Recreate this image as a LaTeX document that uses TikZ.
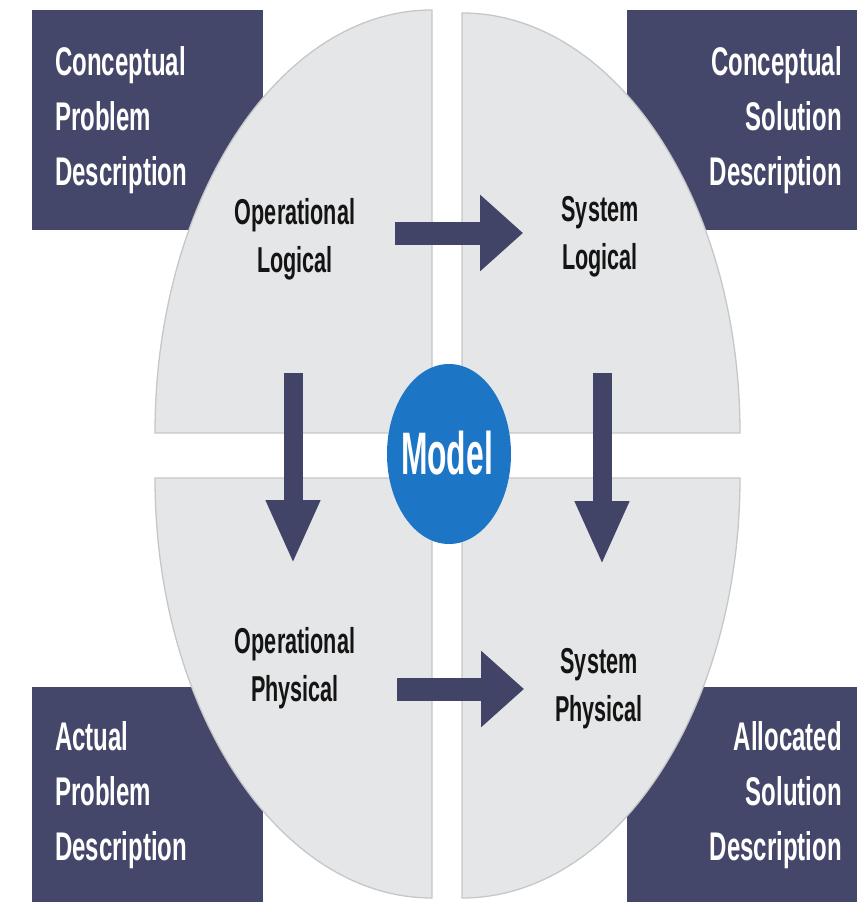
\documentclass[tikz,border=0pt]{standalone}
\usepackage{fontspec}
\setmainfont{Liberation Sans}[FakeStretch=0.6]
\newfontfamily\modelfont{Liberation Sans}[FakeStretch=0.53]
\usetikzlibrary{arrows.meta,shapes.geometric}
\definecolor{navy}{HTML}{45476A}
\definecolor{arrowc}{HTML}{424467}
\definecolor{quadfill}{HTML}{E5E6E8}
\definecolor{quadline}{HTML}{C6C7C9}
\definecolor{modelblue}{HTML}{1C75C5}
\definecolor{innertext}{HTML}{141414}
\begin{document}
\begin{tikzpicture}[x=1pt,y=-1pt,
  descbox/.style={fill=navy, text=white, inner ysep=0pt,
    font=\bfseries\fontsize{40}{55}\selectfont},
  leftbox/.style={descbox, align=left, text width=185pt, inner xsep=23pt},
  rightbox/.style={descbox, align=right, text width=200pt, inner xsep=15pt},
  quad/.style={fill=quadfill, draw=quadline, line width=1.3pt},
  harrow/.style={draw=arrowc, line width=23pt, -{Triangle[length=43pt,width=74pt]}},
  varrow/.style={draw=arrowc, line width=19pt, -{Triangle[length=64pt,width=50pt]}},
  innerlabel/.style={font=\bfseries\fontsize{36}{48}\selectfont, text=innertext,
    align=center, inner sep=0pt, anchor=north}
]
\useasboundingbox (0,0) rectangle (857,902);
\fill[white] (0,0) rectangle (857,902);

% description boxes
\node[leftbox, minimum height=220pt, anchor=north west] (cpd) at (32,10)
  {Conceptual\\Problem\\Description};
\node[rightbox, minimum height=220pt, anchor=north east] (csd) at (857,10)
  {Conceptual\\Solution\\Description};
\node[leftbox, minimum height=215pt, anchor=north west] (apd) at (32,687)
  {Actual\\Problem\\Description};
\node[rightbox, minimum height=215pt, anchor=north east] (asd) at (857,687)
  {Allocated\\Solution\\Description};

% quadrants of the ellipse
\path[quad] (432,433) -- (155,433)
  arc[start angle=180, end angle=90, x radius=277pt, y radius=423pt] -- cycle;
\path[quad] (462,433) -- (462,13)
  arc[start angle=90, end angle=0, x radius=278pt, y radius=420pt] -- cycle;
\path[quad] (432,478) -- (155,478)
  arc[start angle=180, end angle=270, x radius=277pt, y radius=420pt] -- cycle;
\path[quad] (462,478) -- (740,478)
  arc[start angle=0, end angle=-90, x radius=278pt, y radius=420pt] -- cycle;

% labels inside quadrants
\node[innerlabel] (ol) at (295,198) {Operational\\Logical};
\node[innerlabel] (sl) at (600,196) {System\\Logical};
\node[innerlabel] (op) at (295,627) {Operational\\Physical};
\node[innerlabel] (sp) at (599,648) {System\\Physical};

% arrow end points
\coordinate (olR) at (395,233);
\coordinate (slL) at (523,233);
\coordinate (opR) at (397,689);
\coordinate (spL) at (524,689);
\coordinate (olB) at (293,373);
\coordinate (opT) at (293,564);
\coordinate (slB) at (602,373);
\coordinate (spT) at (602,565);

\draw[harrow] (olR) -- (slL);
\draw[harrow] (opR) -- (spL);
\draw[varrow] (olB) -- (opT);
\draw[varrow] (slB) -- (spT);

% model
\node[ellipse, fill=modelblue, minimum width=124pt, minimum height=180pt, inner sep=0pt] (model) at (449,454) {};
\node[font=\modelfont\bfseries\fontsize{60}{60}\selectfont, text=white, anchor=base, inner sep=0pt] (modeltext) at (447,474) {Model};
\end{tikzpicture}
\end{document}
